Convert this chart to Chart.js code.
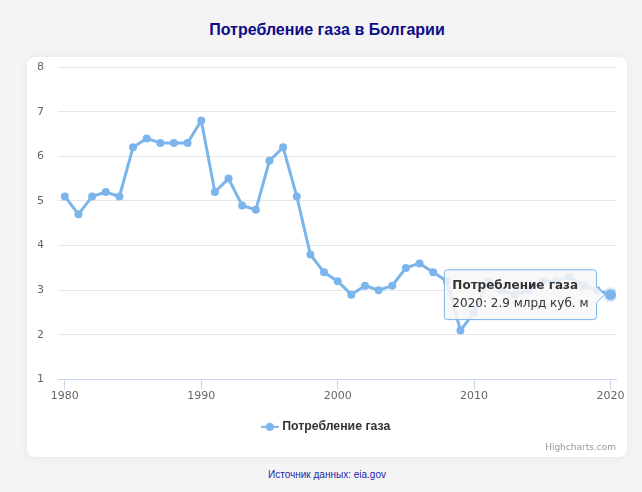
<!DOCTYPE html>
<html>
<head>
<meta charset="utf-8">
<script src="https://cdn.jsdelivr.net/npm/chart.js@4.4.1/dist/chart.umd.min.js"></script>
<style>
    body { margin:0; background:#f4f4f5; width:642px; height:492px; overflow:hidden; position:relative; }
    #title { position:absolute; top:21px; left:6px; width:642px; text-align:center;
             font:bold 16px "Liberation Sans", Arial, sans-serif; color:#0c0c88; }
    #card { position:absolute; left:27px; top:57px; width:600px; height:400px; background:#fff;
            border-radius:8px; box-shadow:0 0 8px rgba(40,60,120,0.08); }
    #card canvas { display:block; }
    #credits { position:absolute; right:11px; bottom:5px; font:9px "DejaVu Sans", sans-serif; color:#999; }
    #source { position:absolute; top:469px; left:6px; width:642px; text-align:center;
              font:10px "Liberation Sans", Arial, sans-serif; color:#2424a8; }
</style>
</head>
<body>
<div id="title">Потребление газа в Болгарии</div>
<div id="card">
    <canvas id="myChart" width="600" height="400"></canvas>
    <div id="credits">Highcharts.com</div>
</div>
<div id="source">Источник данных: eia.gov</div>
<script>
// данные: млрд куб. м по годам
var years = [1980,1981,1982,1983,1984,1985,1986,1987,1988,1989,
             1990,1991,1992,1993,1994,1995,1996,1997,1998,1999,
             2000,2001,2002,2003,2004,2005,2006,2007,2008,2009,
             2010,2011,2012,2013,2014,2015,2016,2017,2018,2019,2020];
var gas = [5.1,4.7,5.1,5.2,5.1,6.2,6.4,6.3,6.3,6.3,
           6.8,5.2,5.5,4.9,4.8,5.9,6.2,5.1,3.8,3.4,
           3.2,2.9,3.1,3.0,3.1,3.5,3.6,3.4,3.2,2.1,
           2.5,3.2,3.0,2.9,3.0,3.2,3.2,3.3,3.1,3.0,2.9];
var xTicks = [1980,1990,2000,2010,2020];
var yTicks = [1,2,3,4,5,6,7,8];
var seriesName = 'Потребление газа';
var unit = 'млрд куб. м';

var blue = '#7cb5ec';

// значок легенды: линия с точкой
var sym = document.createElement('canvas');
sym.width = 18; sym.height = 10;
var s = sym.getContext('2d');
s.strokeStyle = blue; s.lineWidth = 2;
s.beginPath(); s.moveTo(0,5); s.lineTo(18,5); s.stroke();
s.fillStyle = blue;
s.beginPath(); s.arc(9,5,4,0,Math.PI*2); s.fill();

var ctx = document.getElementById('myChart').getContext('2d');
var chart = new Chart(ctx, {
    type: 'line',
    data: {
        datasets: [{
            label: seriesName,
            data: years.map((y,i) => ({x:y, y:gas[i]})),
            borderColor: blue,
            backgroundColor: blue,
            borderWidth: 3,
            pointRadius: 4,
            pointBorderWidth: 0,
            pointHoverRadius: 5.5,
            pointHoverBorderWidth: 4,
            pointHoverBorderColor: 'rgba(124,181,236,0.3)',
            pointHoverBackgroundColor: blue,
            pointStyle: 'circle',
            tension: 0
        }]
    },
    options: {
        responsive: false,
        animation: false,
        events: [],
        layout: { padding: { left: 11, right: 11, top: 10, bottom: 14 } },
        scales: {
            x: {
                type: 'linear',
                min: 1979.5, max: 2020.4,
                afterBuildTicks: sc => { sc.ticks = xTicks.map(v => ({value:v})); },
                afterFit: sc => { sc.height += 2; },
                grid: { drawOnChartArea: false, drawTicks: true, tickLength: 10, color: '#ccd6eb' },
                border: { display: true, color: '#ccd6eb' },
                ticks: { color: '#666', font: { family: 'DejaVu Sans', size: 11 }, padding: 0,
                         maxRotation: 0, callback: v => String(v) }
            },
            y: {
                min: 1, max: 8,
                afterBuildTicks: sc => { sc.ticks = yTicks.map(v => ({value:v})); },
                afterFit: sc => { sc.width = 20; sc.paddingTop = 0; sc.paddingBottom = 0; },
                grid: { color: '#e6e6e6', drawTicks: false },
                border: { display: false },
                ticks: { color: '#666', font: { family: 'DejaVu Sans', size: 11 }, padding: 14 }
            }
        },
        plugins: {
            legend: {
                position: 'bottom',
                labels: {
                    usePointStyle: true,
                    pointStyle: sym,
                    color: '#333',
                    padding: 16,
                    font: { family: 'Liberation Sans', size: 12.3, weight: 'bold' },
                    generateLabels: c => [{ text: seriesName, pointStyle: sym, fontColor: '#333',
                                            strokeStyle: blue, fillStyle: blue, lineWidth: 0, datasetIndex: 0 }]
                }
            },
            tooltip: {
                enabled: true,
                xAlign: 'right',
                yAlign: 'center',
                backgroundColor: 'rgba(247,247,247,0.85)',
                borderColor: blue,
                borderWidth: 1,
                cornerRadius: 3,
                caretSize: 8,
                caretPadding: 6,
                padding: { left: 8, right: 8, top: 9, bottom: 9 },
                displayColors: false,
                titleColor: '#333',
                bodyColor: '#333',
                titleFont: { family: 'DejaVu Sans', size: 12, weight: 'bold' },
                bodyFont: { family: 'DejaVu Sans', size: 12 },
                titleMarginBottom: 3,
                callbacks: {
                    title: items => items[0].dataset.label,
                    label: item => item.raw.x + ': ' + item.raw.y + ' ' + unit
                }
            }
        }
    }
});

// показываем подсказку у последней точки (2020)
var last = years.length - 1;
var pt = chart.getDatasetMeta(0).data[last];
chart.setActiveElements([{datasetIndex:0, index:last}]);
chart.tooltip.setActiveElements([{datasetIndex:0, index:last}], {x: pt.x, y: pt.y});
chart.update();
</script>
</body>
</html>
